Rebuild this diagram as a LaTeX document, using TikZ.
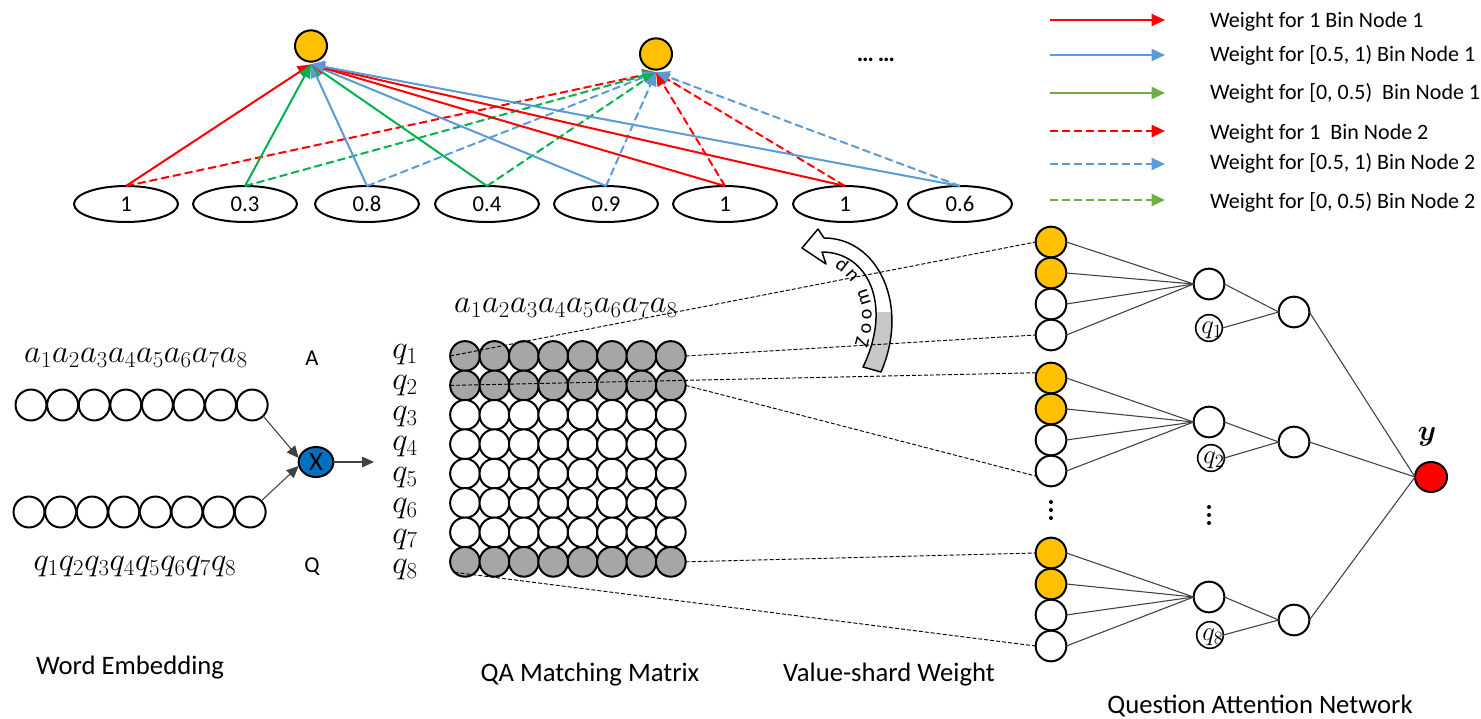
\RequirePackage{fix-cm}
\documentclass[tikz,border=0pt]{standalone}
\usepackage{fontspec}
\setmainfont{Carlito}
\usepackage{bm}
\usetikzlibrary{arrows.meta,decorations.text,shapes.geometric}
\definecolor{cred}{HTML}{FF0000}
\definecolor{cblue}{HTML}{5B9BD5}
\definecolor{cgreen}{HTML}{00B050}
\definecolor{lgreen}{HTML}{70AD47}
\definecolor{cyellow}{HTML}{FFC000}
\definecolor{cgray}{HTML}{A6A6A6}
\definecolor{xblue}{HTML}{0070C0}
\begin{document}
\begin{tikzpicture}[x=0.75pt,y=-0.75pt,
  every node/.style={inner sep=0pt, outer sep=0pt},
  yel/.style={ellipse, draw, line width=1.5pt, fill=cyellow, minimum width=24pt, minimum height=23.5pt},
  val/.style={ellipse, draw, line width=1.5pt, minimum width=78pt, minimum height=27pt, font=\fontsize{17}{18}\selectfont},
  wt/.style={line width=1.5pt},
  tipw/.style={-{Triangle[length=10pt,width=9pt]}},
  dsh/.style={dash pattern=on 6pt off 3pt},
  emb/.style={circle, draw, line width=1.5pt, minimum size=23.2pt, fill=white},
  mat/.style={circle, draw, line width=1.5pt, minimum size=22.3pt},
  vs/.style={circle, draw, line width=1.5pt, minimum size=23pt},
  qcirc/.style={circle, draw, line width=1.2pt, minimum size=20pt},
  thinl/.style={line width=0.8pt, draw=black!75},
  dline/.style={line width=0.7pt, dash pattern=on 3pt off 1.5pt},
  lab/.style={font=\fontsize{20}{24}\selectfont},
  lgd/.style={font=\fontsize{16.5}{20}\selectfont, anchor=west},
  mth/.style={font=\fontsize{24.5}{28}\selectfont},
  vdot/.style={circle, fill=black, minimum size=3pt}
]
\useasboundingbox (0,0) rectangle (1481,718);

% ---------- top: bin nodes ----------
\node[yel] (N1) at (311,46) {};
\node[yel] (N2) at (656,54) {};
\node[font=\fontsize{18}{20}\selectfont\bfseries] (dots) at (876,60) {…\,…};

\foreach \i/\x/\t in {1/126/1,2/245/0.3,3/367/0.8,4/487/0.4,5/606/0.9,6/725/1,7/845/1,8/960/0.6}
  \node[val] (e\i) at (\x,204) {\t};

\foreach \e/\c in {1/cred,2/cgreen,3/cblue,4/cgreen,5/cblue,6/cred,7/cred,8/cblue}
  \draw[wt, draw=\c, dsh, tipw, fill=\c] (e\e.north) -- ([yshift=-2pt]N2.south);
\foreach \e/\c in {1/cred,2/cgreen,3/cblue,4/cgreen,5/cblue,6/cred,7/cred,8/cblue}
  \draw[wt, draw=\c, tipw, fill=\c] (e\e.north) -- ([yshift=-2pt]N1.south);

% ---------- legend ----------
\foreach \k/\y/\c/\d in {1/20/cred/solid,2/55/cblue/solid,3/93/lgreen/solid,4/131/cred/dsh,5/164/cblue/dsh,6/200/lgreen/dsh}{
  \coordinate (ls\k) at (1050,\y);
  \coordinate (le\k) at (1165,\y);
  \draw[wt, draw=\c, fill=\c, \d, tipw] (ls\k) -- (le\k);
}
\node[lgd] (t1) at (1210,22) {Weight for 1 Bin Node 1};
\node[lgd] (t2) at (1210,55) {Weight for [0.5, 1) Bin Node 1};
\node[lgd] (t3) at (1210,93) {Weight for [0, 0.5)\ \ Bin Node 1};
\node[lgd] (t4) at (1210,134) {Weight for 1\ \ Bin Node 2};
\node[lgd] (t5) at (1210,163) {Weight for [0.5, 1) Bin Node 2};
\node[lgd] (t6) at (1210,202) {Weight for [0, 0.5) Bin Node 2};

% ---------- word embedding ----------
\node[mth] (alab) at (136,358) {$a_1a_2a_3a_4a_5a_6a_7a_8$};
\node[font=\fontsize{17}{20}\selectfont] (Alab) at (312,358) {A};
\node[mth] (qlab) at (135,567) {$q_1q_2q_3q_4q_5q_6q_7q_8$};
\node[font=\fontsize{17}{20}\selectfont] (Qlab) at (312,567) {Q};
\foreach \i in {1,...,8}{
  \node[emb] (A\i) at ({31+31.6*(\i-1)},405) {};
  \node[emb] (Q\i) at ({29+31.6*(\i-1)},512) {};
}
\node[ellipse, draw, line width=1.5pt, fill=xblue, minimum width=26pt, minimum height=22.5pt, text=black, font=\fontsize{20}{20}\selectfont] (mul) at (316,462) {X};
\coordinate (mulout) at (374,462);
\draw[thinl, -{Triangle[length=9pt,width=8pt]}] (A8.south east) -- ([yshift=3pt]mul.west);
\draw[thinl, -{Triangle[length=9pt,width=8pt]}] (Q8.north east) -- ([yshift=-3pt]mul.west);
\draw[thinl, -{Triangle[length=9pt,width=8pt]}] (mul.east) -- (mulout);

% ---------- QA matching matrix ----------
\node[mth] (mlab) at (566,308) {$a_1a_2a_3a_4a_5a_6a_7a_8$};
\foreach \r/\f in {1/cgray,2/cgray,3/white,4/white,5/white,6/white,7/white,8/cgray}{
  \node[mth] (mq\r) at (405,{355+30.7*(\r-1)}) {$q_{\r}$};
  \foreach \c in {1,...,8}
    \node[mat, fill=\f] (m\r\c) at ({465+29.4*(\c-1)},{356+29.4*(\r-1)}) {};
}

% ---------- zoom arrow ----------
\def\zoompath{(824,238) .. controls (878,238) and (910,305) .. (881,372) -- (863,367) .. controls (893,305) and (868,252) .. (822,252) -- (826,264) -- (802,248) -- (818,229) -- cycle}
\fill[white] \zoompath;
\begin{scope}
  \clip \zoompath;
  \fill[black!22] (878,312) -- (910,312) -- (910,385) -- (855,385) -- cycle;
\end{scope}
\draw[line width=1.1pt, line join=round] \zoompath;
\path[decorate, decoration={text along path, text align={fit to path},
  text={|\fontsize{15}{16}\selectfont|Zoom up}}]
  (867,348) .. controls (879,308) and (868,278) .. (840,259);

% ---------- value-shard weight ----------
\foreach \k/\ya/\yb/\yc/\yd in {1/242/273/304/335,2/378/409/440/471,3/553/584/615/646}{
  \node[vs, fill=cyellow] (g\k1) at (1051,\ya) {};
  \node[vs, fill=cyellow] (g\k2) at (1051,\yb) {};
  \node[vs, fill=white] (g\k3) at (1051,\yc) {};
  \node[vs, fill=white] (g\k4) at (1051,\yd) {};
}
\foreach \y in {502,510,518} \node[vdot] at (1051,\y) {};

\draw[dline] (m11.west) -- (g11.west);
\draw[dline] (m18.east) -- (g14.west);
\draw[dline] (m21.west) -- (g21.160);
\draw[dline] (m28.east) -- (g24.200);
\draw[dline] (m88.east) -- (g31.west);
\draw[dline] (m81.south west) -- (g34.west);

% ---------- question attention network ----------
\node[vs] (h1) at (1209,284) {};
\node[vs] (h2) at (1209,422) {};
\node[vs] (h3) at (1209,597) {};
\node[qcirc] (qc1) at (1209,328) {};
\node[qcirc] (qc2) at (1211,458) {};
\node[qcirc] (qc3) at (1210,635) {};
\node[font=\fontsize{20}{20}\selectfont] (qt1) at (1212,330) {$q_1$};
\node[font=\fontsize{20}{20}\selectfont] (qt2) at (1214,460) {$q_2$};
\node[font=\fontsize{20}{20}\selectfont] (qt3) at (1213,637) {$q_8$};
\foreach \y in {507,515,523} \node[vdot] at (1209,\y) {};
\node[vs] (c1) at (1294,312) {};
\node[vs] (c2) at (1294,442) {};
\node[vs] (c3) at (1294,620) {};
\node[ellipse, draw, line width=1.5pt, fill=cred, minimum width=24pt, minimum height=22.5pt] (out) at (1431,477) {};
\node[font=\fontsize{22}{24}\selectfont] (ylab) at (1427,437) {$\bm{y}$};

\foreach \k in {1,2,3}{
  \foreach \j in {1,2,3,4}
    \draw[thinl] (g\k\j.east) -- (h\k.west);
  \draw[thinl] (h\k.east) -- (c\k.west);
  \draw[thinl] (qc\k.east) -- (c\k.west);
  \draw[thinl] (c\k.east) -- (out.west);
}

% ---------- captions ----------
\node[lab] (cap1) at (130,668) {Word Embedding};
\node[lab] (cap2) at (590,675) {QA Matching Matrix};
\node[lab] (cap3) at (889,675) {Value-shard Weight};
\node[lab] (cap4) at (1260,706) {Question Attention Network};
\end{tikzpicture}
\end{document}
